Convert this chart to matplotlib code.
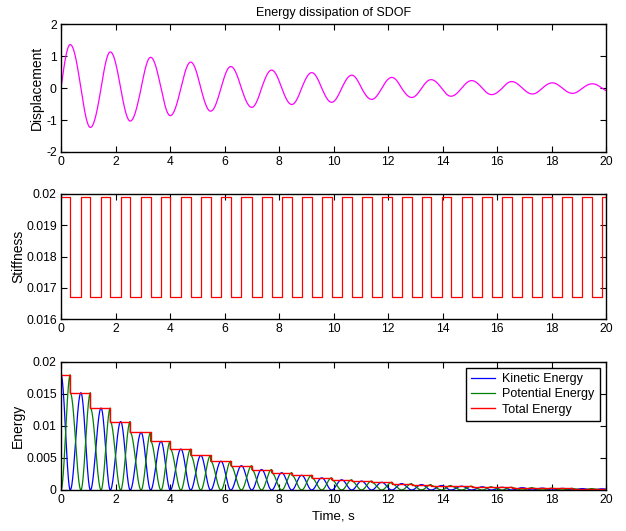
import numpy as np
import matplotlib
matplotlib.use("Agg")
import matplotlib.pyplot as plt
from matplotlib.ticker import FuncFormatter, MultipleLocator

plt.rcParams['font.family'] = ['Liberation Sans', 'DejaVu Sans']

# ---- data ----
# zero-crossing times of displacement (stiffness switches up)
zero_times = [0.0, 0.73, 1.47, 2.19, 2.94, 3.67, 4.40, 5.13, 5.87, 6.62, 7.36, 8.10,
              8.83, 9.57, 10.30, 11.03, 11.77, 12.50, 13.23, 13.97, 14.70, 15.46,
              16.19, 16.93, 17.66, 18.40, 19.13, 19.86]
# extremum times of displacement (stiffness switches down)
peak_times = [0.34, 1.08, 1.81, 2.54, 3.29, 4.01, 4.76, 5.49, 6.23, 7.00, 7.73, 8.47,
              9.20, 9.93, 10.67, 11.40, 12.14, 12.87, 13.58, 14.31, 15.07, 15.80,
              16.54, 17.30, 18.03, 18.77, 19.50, 20.22]
# displacement at the extrema
peak_disp = [1.37, -1.23, 1.14, -1.03, 0.97, -0.86, 0.82, -0.72, 0.68, -0.60, 0.57,
             -0.51, 0.49, -0.44, 0.41, -0.35, 0.34, -0.29, 0.27, -0.25, 0.24, -0.20,
             0.21, -0.18, 0.17, -0.16, 0.14, -0.13]
# total energy level between successive extrema
energy_levels = [0.0180, 0.0152, 0.0128, 0.0107, 0.0090, 0.0076, 0.0064, 0.0054,
                 0.0045, 0.0038, 0.0032, 0.0027, 0.0023, 0.0019, 0.0016, 0.0014,
                 0.0012, 0.0010, 0.00085, 0.0007, 0.0006, 0.0005, 0.00043, 0.00036,
                 0.0003, 0.00026, 0.00022, 0.00019]
k_high = 0.0199
k_low = 0.0167
t_end = 20.0

# ---- build curves from the read values ----
t_all, x_all, ke_all, pe_all = [], [], [], []
n = len(zero_times)
for i in range(n):
    # rising quarter: zero -> extremum, level i
    t0, t1 = zero_times[i], peak_times[i]
    tt = np.linspace(t0, min(t1, t_end), 40)
    ph = (tt - t0) / (t1 - t0) * np.pi / 2
    t_all.append(tt); x_all.append(peak_disp[i] * np.sin(ph))
    ke_all.append(energy_levels[i] * np.cos(ph) ** 2)
    pe_all.append(energy_levels[i] * np.sin(ph) ** 2)
    if i + 1 < n:
        # falling quarter: extremum -> next zero, level i+1
        t0, t1 = peak_times[i], zero_times[i + 1]
        tt = np.linspace(t0, t1, 40)
        ph = np.pi / 2 + (tt - t0) / (t1 - t0) * np.pi / 2
        t_all.append(tt); x_all.append(peak_disp[i] * np.sin(ph))
        ke_all.append(energy_levels[i + 1] * np.cos(ph) ** 2)
        pe_all.append(energy_levels[i + 1] * np.sin(ph) ** 2)
t_all = np.concatenate(t_all); x_all = np.concatenate(x_all)
ke_all = np.concatenate(ke_all); pe_all = np.concatenate(pe_all)

k_t, k_v = [], []
for i in range(n):
    k_t.append(zero_times[i]); k_v.append(k_high)
    if peak_times[i] < t_end:
        k_t.append(peak_times[i]); k_v.append(k_low)
k_t.append(t_end); k_v.append(k_v[-1])

e_t = [0.0] + [p for p in peak_times if p < t_end] + [t_end]
e_v = energy_levels[:len(e_t) - 1] + [energy_levels[len(e_t) - 2]]

# ---- figure ----
W, H = 626, 531
fig = plt.figure(figsize=(W / 100, H / 100), dpi=100)
L, R = 61, 606

def mkax(top, bot):
    return fig.add_axes([L / W, 1 - bot / H, (R - L) / W, (bot - top) / H])

ax1 = mkax(24.5, 152)
ax2 = mkax(194, 319)
ax3 = mkax(362, 490)

gfmt = FuncFormatter(lambda v, p: ('%g' % round(v, 6)))
for ax in (ax1, ax2, ax3):
    ax.set_xlim(0, 20)
    ax.xaxis.set_major_locator(MultipleLocator(2))
    ax.tick_params(direction='in', top=True, right=True, length=4, width=0.8,
                   labelsize=8.7, pad=3)
    for s in ax.spines.values():
        s.set_linewidth(1.0)
    ax.yaxis.set_major_formatter(gfmt)
    ax.xaxis.set_major_formatter(gfmt)

def place_ylabel(ax, text, xpix):
    ax.set_ylabel(text, fontsize=10, va='center')
    bb = ax.get_position()
    ax.yaxis.set_label_coords((xpix / W - bb.x0) / bb.width, 0.5)

ax1.plot(t_all, x_all, color=(1, 0, 1), lw=0.9)
ax1.set_ylim(-2, 2)
ax1.yaxis.set_major_locator(MultipleLocator(1))
place_ylabel(ax1, 'Displacement', 37)
ax1.set_title('Energy dissipation of SDOF', fontsize=9, pad=6)

ax2.plot(k_t, k_v, color='red', lw=0.9, drawstyle='steps-post')
ax2.set_ylim(0.016, 0.02)
ax2.yaxis.set_major_locator(MultipleLocator(0.001))
place_ylabel(ax2, 'Stiffness', 18)

ax3.plot(t_all, ke_all, color='blue', lw=0.9, label='Kinetic Energy')
ax3.plot(t_all, pe_all, color=(0, 0.5, 0), lw=0.9, label='Potential Energy')
ax3.plot(e_t, e_v, color='red', lw=1.0, drawstyle='steps-post', label='Total Energy')
ax3.set_ylim(0, 0.02)
ax3.yaxis.set_major_locator(MultipleLocator(0.005))
place_ylabel(ax3, 'Energy', 18)
ax3.set_xlabel('Time, s', fontsize=9.5, labelpad=3)
leg = ax3.legend(loc='upper right', fontsize=9, fancybox=False, framealpha=1,
                 edgecolor='black', borderaxespad=0.5, handlelength=1.9,
                 labelspacing=0.25, borderpad=0.4, handletextpad=0.6)
leg.get_frame().set_linewidth(1.0)

fig.savefig('out.png', dpi=100)
